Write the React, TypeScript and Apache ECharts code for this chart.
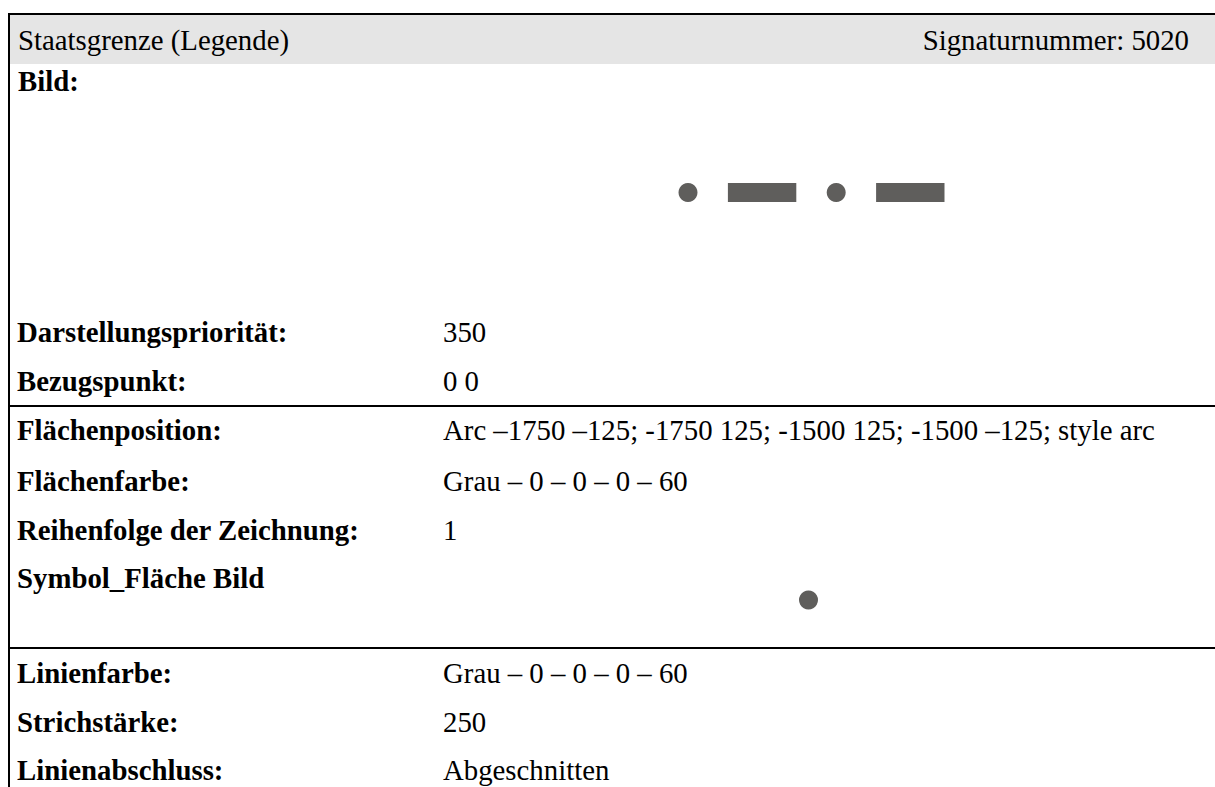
import React, { useEffect, useRef } from "react";
import * as echarts from "echarts";

// ---- data ----
const headerTitle = "Staatsgrenze (Legende)";
const headerNumber = "Signaturnummer: 5020";
const imageLabel = "Bild:";
const section1Labels = ["Darstellungspriorität:", "Bezugspunkt:"];
const section1Values = ["350", "0 0"];
const section2Labels = ["Flächenposition:", "Flächenfarbe:", "Reihenfolge der Zeichnung:", "Symbol_Fläche Bild"];
const section2Values = [
  "Arc –1750 –125; -1750 125; -1500 125; -1500 –125; style arc",
  "Grau – 0 – 0 – 0 – 60",
  "1",
  "",
];
const section3Labels = ["Linienfarbe:", "Strichstärke:", "Linienabschluss:"];
const section3Values = ["Grau – 0 – 0 – 0 – 60", "250", "Abgeschnitten"];

// line pattern (drawing units): circle Ø250, dash 900 x 250, gaps 400
const patternKinds = ["circle", "rect", "circle", "rect"];
const patternX = [-1625, -650, 325, 1300];
const patternLen = [250, 900, 250, 900];
const lineWidthUnits = 250;
// area symbol (single arc)
const areaSymbolX = [-1625];

const W = 1215;
const H = 787;
const PX = 19 / 250; // pixels per drawing unit
const GREY = "#5f5e5c";
const FONT = '"Liberation Serif", "Times New Roman", serif';
const FS = 28.8;

export default function App() {
  const ref = useRef<HTMLDivElement>(null);
  useEffect(() => {
    if (!ref.current) return;
    const chart = echarts.init(ref.current, undefined, { renderer: "svg" });

    const g1Left = 600, g1Width = 400;
    const x1Min = -1750 - (678.5 - g1Left) / PX;
    const x1Max = x1Min + g1Width / PX;
    const g2Left = 788.5, g2Width = 40;
    const x2Min = -1625 - 20 / PX;
    const x2Max = -1625 + 20 / PX;
    const yHalf = 20 / PX;

    const labelX = 17;
    const valueX = 443;
    const mid = (baseline: number) => baseline - 0.3375 * FS;

    const texts: any[] = [];
    const addText = (txt: string, x: number, baseline: number, bold: boolean, align = "left") => {
      if (!txt) return;
      texts.push({
        type: "text",
        x,
        y: mid(baseline),
        z: 10,
        style: {
          text: txt,
          fill: "#000",
          font: `${bold ? "bold " : ""}${FS}px ${FONT}`,
          textAlign: align,
          textVerticalAlign: "middle",
        },
      });
    };

    addText(headerTitle, labelX + 1, 50, false);
    addText(headerNumber, 1189, 50, false, "right");
    addText(imageLabel, labelX + 1, 91, true);
    const s1 = [342, 391];
    section1Labels.forEach((l, i) => {
      addText(l, labelX, s1[i], true);
      addText(section1Values[i], valueX, s1[i], false);
    });
    const s2 = [440, 491, 540, 588];
    section2Labels.forEach((l, i) => {
      addText(l, labelX, s2[i], true);
      addText(section2Values[i], valueX, s2[i], false);
    });
    const s3 = [683, 732, 780];
    section3Labels.forEach((l, i) => {
      addText(l, labelX, s3[i], true);
      addText(section3Values[i], valueX, s3[i], false);
    });

    const hline = (y: number) => ({
      type: "rect",
      z: 5,
      shape: { x: 8, y: y - 1, width: W - 8, height: 2 },
      style: { fill: "#000" },
    });

    const makeSymbolData = (xs: number[], kinds: string[], lens: number[]) =>
      xs.map((x, i) => ({
        value: [x, 0],
        symbol: kinds[i],
        symbolSize: kinds[i] === "circle" ? lens[i] * PX : [lens[i] * PX, lineWidthUnits * PX],
      }));

    chart.setOption({
      animation: false,
      backgroundColor: "#fff",
      grid: [
        { left: g1Left, width: g1Width, top: 172.5, height: 40 },
        { left: g2Left, width: g2Width, top: 580, height: 40 },
      ],
      xAxis: [
        { type: "value", gridIndex: 0, min: x1Min, max: x1Max, show: false },
        { type: "value", gridIndex: 1, min: x2Min, max: x2Max, show: false },
      ],
      yAxis: [
        { type: "value", gridIndex: 0, min: -yHalf, max: yHalf, show: false },
        { type: "value", gridIndex: 1, min: -yHalf, max: yHalf, show: false },
      ],
      series: [
        {
          type: "scatter",
          xAxisIndex: 0,
          yAxisIndex: 0,
          itemStyle: { color: GREY, opacity: 1 },
          emphasis: { disabled: true },
          data: makeSymbolData(patternX, patternKinds, patternLen),
        },
        {
          type: "scatter",
          xAxisIndex: 1,
          yAxisIndex: 1,
          itemStyle: { color: GREY, opacity: 1 },
          emphasis: { disabled: true },
          data: makeSymbolData(areaSymbolX, ["circle"], [250]),
        },
      ],
      graphic: [
        {
          type: "rect",
          z: 1,
          shape: { x: 10, y: 15, width: W - 10, height: 49 },
          style: { fill: "#e5e5e5" },
        },
        {
          type: "rect",
          z: 5,
          shape: { x: 8, y: 13, width: W - 8, height: 2 },
          style: { fill: "#000" },
        },
        {
          type: "rect",
          z: 5,
          shape: { x: 8, y: 13, width: 2, height: H - 13 },
          style: { fill: "#000" },
        },
        hline(406),
        hline(648),
        ...texts,
      ],
    });
    return () => chart.dispose();
  }, []);
  return (
    <div
      ref={ref}
      style={{ position: "fixed", left: 0, top: 0, width: W, height: H, background: "#fff" }}
    />
  );
}
